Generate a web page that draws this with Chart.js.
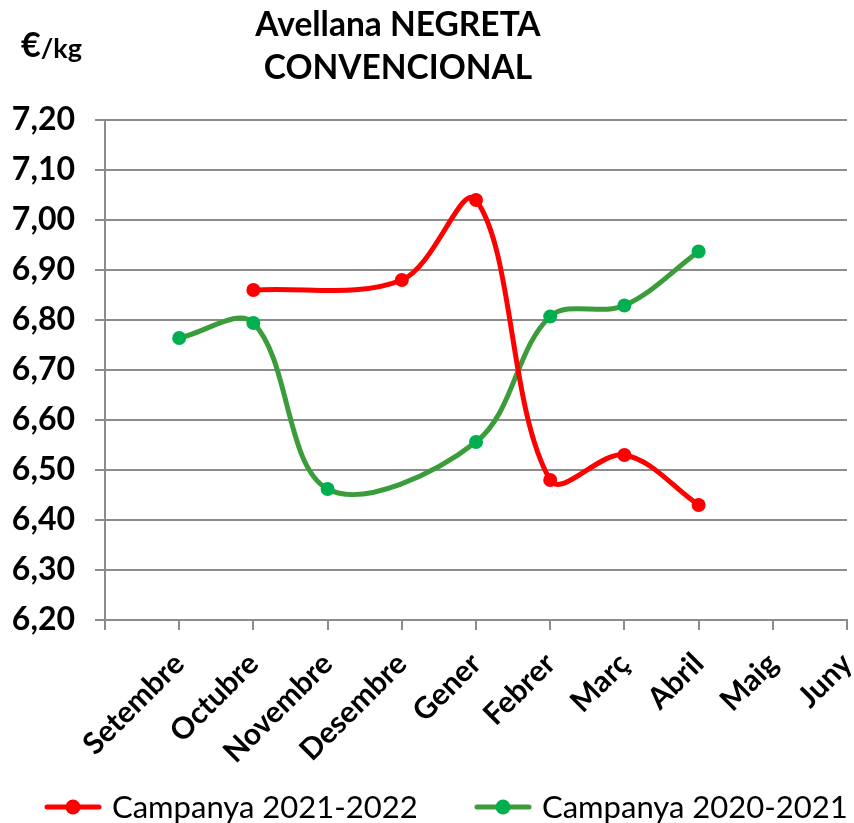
<!DOCTYPE html>
<html>
<head>
<meta charset="utf-8">
<script src="https://cdn.jsdelivr.net/npm/chart.js@4"></script>
<style>
  html, body { margin: 0; padding: 0; background: #fff; }
  #wrap { width: 854px; height: 823px; }
</style>
</head>
<body>
<div id="wrap"><canvas id="preuChart"></canvas></div>
<script>
const mesos = ["", "Setembre", "Octubre", "Novembre", "Desembre", "Gener", "Febrer", "Març", "Abril", "Maig", "Juny"];
const campanya2122 = [null, null, 6.86, null, 6.88, 7.04, 6.48, 6.53, 6.43, null, null];
const campanya2021 = [null, 6.764, 6.794, 6.462, null, 6.556, 6.807, 6.829, 6.937, null, null];
const titol = ["Avellana NEGRETA", "CONVENCIONAL"];

const FONT = "Lato, 'Open Sans', sans-serif";

// title, unit label and legend (line + dot + text)
const textos = {
  id: "textos",
  afterDraw(chart) {
    const ctx = chart.ctx;
    ctx.save();
    ctx.fillStyle = "#000";
    ctx.textAlign = "center";
    ctx.textBaseline = "middle";
    ctx.font = "bold 33.5px " + FONT;
    ctx.fillText(titol[0], 398, 25);
    ctx.fillText(titol[1], 398, 68);

    ctx.textAlign = "left";
    ctx.font = "bold 34px " + FONT;
    ctx.fillText("€", 21, 46);
    const w = ctx.measureText("€").width;
    ctx.font = "bold 27px " + FONT;
    ctx.fillText("/kg", 21 + w, 49);

    const posX = [45, 475];
    const y = 807;
    chart.data.datasets.forEach((ds, i) => {
      const x = posX[i];
      ctx.strokeStyle = ds.borderColor;
      ctx.lineWidth = 5;
      ctx.lineCap = "round";
      ctx.beginPath(); ctx.moveTo(x + 2, y); ctx.lineTo(x + 54, y); ctx.stroke();
      ctx.fillStyle = ds.pointBackgroundColor;
      ctx.beginPath(); ctx.arc(x + 28, y, 7.5, 0, Math.PI * 2); ctx.fill();
      ctx.fillStyle = "#000";
      ctx.font = "31px " + FONT;
      ctx.fillText(ds.label, x + 67, y + 1);
    });
    ctx.restore();
  }
};

new Chart(document.getElementById("preuChart"), {
  type: "line",
  data: {
    labels: mesos,
    datasets: [
      {
        label: "Campanya 2021-2022",
        data: campanya2122,
        borderColor: "#ff0000",
        backgroundColor: "#ff0000",
        pointBackgroundColor: "#ff0000",
        pointBorderWidth: 0,
        pointRadius: 7,
        borderWidth: 5,
        tension: 0.35,
        spanGaps: true
      },
      {
        label: "Campanya 2020-2021",
        data: campanya2021,
        borderColor: "#3a9c3a",
        backgroundColor: "#3a9c3a",
        pointBackgroundColor: "#00b050",
        pointBorderWidth: 0,
        pointRadius: 7,
        borderWidth: 5,
        tension: 0.35,
        spanGaps: true
      }
    ]
  },
  options: {
    responsive: true,
    maintainAspectRatio: false,
    animation: false,
    layout: { padding: { top: 120, right: -3, left: 0, bottom: 58 } },
    plugins: {
      title: { display: false },
      tooltip: { enabled: false },
      legend: { display: false }
    },
    scales: {
      x: {
        offset: false,
        grid: { drawOnChartArea: false, drawTicks: true, tickLength: 10, color: "#8c8c8c", lineWidth: 2 },
        border: { color: "#8c8c8c", width: 2 },
        ticks: {
          color: "#000",
          autoSkip: false,
          maxRotation: 45,
          minRotation: 45,
          padding: 16,
          font: { family: FONT, size: 30, weight: "bold" }
        },
        afterFit(scale) {
          scale.height = 145;
          scale.paddingLeft = 0;
          scale.paddingRight = 0;
        }
      },
      y: {
        min: 6.2,
        max: 7.2,
        grid: { color: "#8c8c8c", lineWidth: 2, tickLength: 10 },
        border: { color: "#8c8c8c", width: 2 },
        ticks: {
          stepSize: 0.1,
          color: "#000",
          padding: 20,
          font: { family: FONT, size: 32, weight: "bold" },
          callback: v => v.toFixed(2).replace(".", ",")
        },
        afterFit(scale) { scale.width = 105; }
      }
    }
  },
  plugins: [textos]
});
</script>
</body>
</html>
